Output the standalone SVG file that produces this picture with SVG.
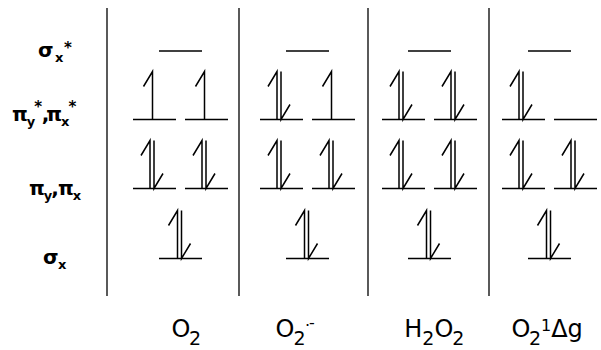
<svg xmlns="http://www.w3.org/2000/svg" xmlns:xlink="http://www.w3.org/1999/xlink" width="601" height="350" viewBox="0 0 601 350">
<style>
.ln{stroke:#000;stroke-width:1.3;fill:none}
.ar{stroke:#000;stroke-width:1.5;fill:none;stroke-linejoin:miter}
.lb{font-family:"DejaVu Sans","Verdana",sans-serif;font-weight:bold;font-size:20px;fill:#000}
.lb .s{font-size:13px}
.lb .a{font-size:15px}
.nm{font-family:"DejaVu Sans","Verdana",sans-serif;font-size:24px;fill:#000}
.nm .s{font-size:19px}
.nm .t{font-size:16px}
</style>
<defs>
<path id="up" class="ar" d="M-9,15 L0,0 L0,48"/>
<path id="dn" class="ar" d="M0,0 L0,48 L9,33"/>
</defs>
<rect width="601" height="350" fill="#fff"/>
<g id="dividers" class="ln">
<line x1="107" y1="8" x2="107" y2="296"/>
<line x1="239" y1="8" x2="239" y2="296"/>
<line x1="368" y1="8" x2="368" y2="296"/>
<line x1="489" y1="8" x2="489" y2="296"/>
</g>
<g id="labels">
<text class="lb" x="38" y="57">σ<tspan class="s" dx="1.5" dy="5">x</tspan><tspan class="a" dx="0.5" dy="-9">*</tspan></text>
<text class="lb" x="12" y="121">π<tspan class="s" dx="-1" dy="5">y</tspan><tspan class="a" dx="-1" dy="-14">*</tspan><tspan dx="-0.5" dy="9">,</tspan><tspan dx="-3">π</tspan><tspan class="s" dx="-1" dy="5">x</tspan><tspan class="a" dx="-1" dy="-14">*</tspan></text>
<text class="lb" x="29" y="195">π<tspan class="s" dx="-1" dy="5">y</tspan><tspan dx="-1" dy="-5">,</tspan><tspan dx="-1">π</tspan><tspan class="s" dx="-1" dy="5">x</tspan></text>
<text class="lb" x="43" y="264">σ<tspan class="s" dx="-0.5" dy="5">x</tspan></text>
</g>
<g id="O2">
<g class="ln">
<line x1="159" y1="51" x2="202" y2="51"/>
<line x1="133" y1="119.5" x2="176" y2="119.5"/><line x1="185" y1="119.5" x2="228" y2="119.5"/>
<line x1="133" y1="188.5" x2="176" y2="188.5"/><line x1="185" y1="188.5" x2="228" y2="188.5"/>
<line x1="159" y1="258.5" x2="202" y2="258.5"/>
</g>
<use xlink:href="#up" x="152.5" y="71.5"/><use xlink:href="#up" x="204.5" y="71.5"/>
<use xlink:href="#up" x="150" y="140.5"/><use xlink:href="#dn" x="154" y="140.5"/>
<use xlink:href="#up" x="202" y="140.5"/><use xlink:href="#dn" x="206" y="140.5"/>
<use xlink:href="#up" x="177.5" y="210.5"/><use xlink:href="#dn" x="181.5" y="210.5"/>
<text class="nm" x="171.5" y="337">O<tspan class="s" dx="-1.5" dy="8">2</tspan></text>
</g>
<g id="O2rad">
<g class="ln">
<line x1="286" y1="51" x2="329" y2="51"/>
<line x1="260" y1="119.5" x2="303" y2="119.5"/><line x1="312" y1="119.5" x2="355" y2="119.5"/>
<line x1="260" y1="188.5" x2="303" y2="188.5"/><line x1="312" y1="188.5" x2="355" y2="188.5"/>
<line x1="286" y1="258.5" x2="329" y2="258.5"/>
</g>
<use xlink:href="#up" x="277" y="71.5"/><use xlink:href="#dn" x="281" y="71.5"/>
<use xlink:href="#up" x="331.5" y="71.5"/>
<use xlink:href="#up" x="277" y="140.5"/><use xlink:href="#dn" x="281" y="140.5"/>
<use xlink:href="#up" x="329" y="140.5"/><use xlink:href="#dn" x="333" y="140.5"/>
<use xlink:href="#up" x="304.5" y="210.5"/><use xlink:href="#dn" x="308.5" y="210.5"/>
<text class="nm" x="275.5" y="337">O<tspan class="s" dx="-1" dy="8">2</tspan><tspan class="t" dx="-0.5" dy="-14">·</tspan><tspan class="t" dx="-1" dy="-3">-</tspan></text>
</g>
<g id="H2O2">
<g class="ln">
<line x1="408" y1="51" x2="451" y2="51"/>
<line x1="382" y1="119.5" x2="425" y2="119.5"/><line x1="434" y1="119.5" x2="477" y2="119.5"/>
<line x1="382" y1="188.5" x2="425" y2="188.5"/><line x1="434" y1="188.5" x2="477" y2="188.5"/>
<line x1="408" y1="258.5" x2="451" y2="258.5"/>
</g>
<use xlink:href="#up" x="399" y="71.5"/><use xlink:href="#dn" x="403" y="71.5"/>
<use xlink:href="#up" x="451" y="71.5"/><use xlink:href="#dn" x="455" y="71.5"/>
<use xlink:href="#up" x="399" y="140.5"/><use xlink:href="#dn" x="403" y="140.5"/>
<use xlink:href="#up" x="451" y="140.5"/><use xlink:href="#dn" x="455" y="140.5"/>
<use xlink:href="#up" x="426.5" y="210.5"/><use xlink:href="#dn" x="430.5" y="210.5"/>
<text class="nm" x="404.3" y="337">H<tspan class="s" dy="8">2</tspan><tspan dy="-8">O</tspan><tspan class="s" dx="-1" dy="8">2</tspan></text>
</g>
<g id="O2singlet">
<g class="ln">
<line x1="528" y1="51" x2="571" y2="51"/>
<line x1="502" y1="119.5" x2="545" y2="119.5"/><line x1="554" y1="119.5" x2="597" y2="119.5"/>
<line x1="502" y1="188.5" x2="545" y2="188.5"/><line x1="554" y1="188.5" x2="597" y2="188.5"/>
<line x1="528" y1="258.5" x2="571" y2="258.5"/>
</g>
<use xlink:href="#up" x="519" y="71.5"/><use xlink:href="#dn" x="523" y="71.5"/>
<use xlink:href="#up" x="519" y="140.5"/><use xlink:href="#dn" x="523" y="140.5"/>
<use xlink:href="#up" x="571" y="140.5"/><use xlink:href="#dn" x="575" y="140.5"/>
<use xlink:href="#up" x="546.5" y="210.5"/><use xlink:href="#dn" x="550.5" y="210.5"/>
<text class="nm" x="511.5" y="337">O<tspan class="s" dx="-1.5" dy="8">2</tspan><tspan class="t" dx="0" dy="-14">1</tspan><tspan dx="0" dy="6">Δg</tspan></text>
</g>
</svg>
